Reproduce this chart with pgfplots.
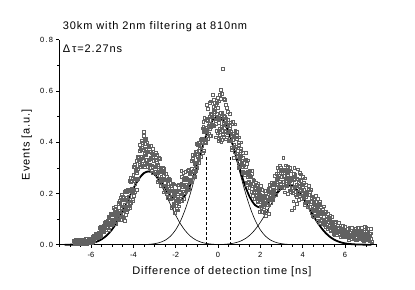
\documentclass[border=0pt]{standalone}
\usepackage{fontspec}
\setmainfont{Liberation Sans}
\newfontfamily\lsfont[LetterSpace=8]{Liberation Sans}
\usepackage{pgfplots}
\pgfplotsset{compat=1.18}
\begin{document}
\begin{tikzpicture}
\path[use as bounding box] (0,0) rectangle (415bp,290bp);
\begin{axis}[
  at={(59.3bp,45.3bp)}, anchor=south west,
  scale only axis, width=317.4bp, height=205bp,
  xmin=-7.5, xmax=7.5, ymin=0, ymax=0.8,
  axis x line=bottom, axis y line=left,
  axis line style={-, line width=0.8pt, black},
  xtick={-6,-4,-2,0,2,4,6}, xticklabels={-6,-4,-2,0,2,4,6},
  minor xtick={-7.5,-7,...,7.5},
  ytick={0,0.2,0.4,0.6,0.8},
  yticklabels={0{\kern1.3bp}.{\kern1.3bp}0,0{\kern1.3bp}.{\kern1.3bp}2,0{\kern1.3bp}.{\kern1.3bp}4,0{\kern1.3bp}.{\kern1.3bp}6,0{\kern1.3bp}.{\kern1.3bp}8},
  minor ytick={0.1,0.3,0.5,0.7},
  tick align=outside, major tick length=3bp, minor tick length=2bp,
  tick style={black, line width=0.6pt},
  ticklabel style={font=\fontsize{7.5bp}{9bp}\selectfont},
  xticklabel style={anchor=north, inner sep=0pt, yshift=-4bp},
  yticklabel style={anchor=east, inner sep=0pt, xshift=-3bp},
  clip=false,
]
\addplot[only marks, mark=square, mark size=1.4bp, mark options={draw=black!62, line width=0.35pt}] coordinates {
(-6.81,0.015)(-6.78,0.004)(-6.75,0.021)(-6.72,0.010)(-6.69,0.018)(-6.66,0.007)(-6.63,0.013)(-6.60,0.003)(-6.57,0.019)(-6.54,0.008)(-6.51,0.014)(-6.48,0.020)(-6.45,0.006)(-6.42,0.011)(-6.39,0.017)(-6.36,0.005)(-6.33,0.016)(-6.30,0.009)(-6.27,0.022)(-6.24,0.012)(-6.21,0.002)(-6.18,0.016)(-6.15,0.007)(-6.12,0.017)(-6.09,0.006)(-6.06,0.023)(-6.03,0.012)(-6.00,0.020)
(-5.97,0.014)(-5.94,0.023)(-5.91,0.013)(-5.88,0.034)(-5.85,0.023)(-5.82,0.032)(-5.79,0.042)(-5.76,0.027)(-5.73,0.035)(-5.70,0.044)(-5.67,0.032)(-5.64,0.047)(-5.61,0.040)
(-5.58,0.068)(-5.55,0.051)(-5.52,0.034)(-5.49,0.064)(-5.46,0.049)(-5.43,0.069)(-5.40,0.050)(-5.37,0.087)(-5.34,0.068)(-5.31,0.087)(-5.28,0.068)(-5.25,0.083)(-5.22,0.066)
(-5.19,0.109)(-5.16,0.078)(-5.13,0.098)(-5.10,0.118)(-5.07,0.078)(-5.04,0.095)(-5.01,0.115)(-4.98,0.081)(-4.95,0.116)(-4.92,0.097)(-4.89,0.138)(-4.86,0.110)(-4.83,0.082)(-4.80,0.125)(-4.77,0.100)(-4.74,0.127)(-4.71,0.096)
(-4.68,0.166)(-4.65,0.121)(-4.62,0.162)(-4.59,0.118)(-4.56,0.150)(-4.53,0.110)(-4.50,0.187)(-4.47,0.142)(-4.44,0.174)(-4.41,0.206)(-4.38,0.148)(-4.35,0.176)(-4.32,0.208)(-4.29,0.159)(-4.26,0.213)(-4.23,0.187)(-4.20,0.250)
(-4.17,0.212)(-4.14,0.170)(-4.11,0.246)(-4.08,0.208)(-4.05,0.259)(-4.02,0.212)(-3.99,0.305)(-3.96,0.258)(-3.93,0.306)(-3.90,0.259)(-3.87,0.297)(-3.84,0.255)(-3.81,0.343)
(-3.78,0.295)(-3.75,0.332)(-3.72,0.368)(-3.69,0.304)(-3.66,0.335)(-3.63,0.370)(-3.60,0.315)(-3.57,0.372)(-3.54,0.339)(-3.51,0.425)(-3.48,0.355)(-3.45,0.304)(-3.42,0.370)(-3.39,0.322)(-3.36,0.363)(-3.33,0.305)(-3.30,0.387)
(-3.27,0.331)(-3.24,0.364)(-3.21,0.312)(-3.18,0.335)(-3.15,0.288)(-3.12,0.357)(-3.09,0.304)(-3.06,0.328)(-3.03,0.352)(-3.00,0.286)(-2.97,0.305)(-2.94,0.330)(-2.91,0.272)(-2.88,0.319)(-2.85,0.284)(-2.82,0.340)(-2.79,0.292)
(-2.76,0.248)(-2.73,0.298)(-2.70,0.257)(-2.67,0.287)(-2.64,0.238)(-2.61,0.302)(-2.58,0.253)(-2.55,0.281)(-2.52,0.232)(-2.49,0.252)(-2.46,0.207)(-2.43,0.267)(-2.40,0.218)(-2.37,0.238)(-2.34,0.257)(-2.31,0.197)
(-2.28,0.211)(-2.25,0.230)(-2.22,0.178)(-2.19,0.219)(-2.16,0.188)(-2.13,0.238)(-2.10,0.196)(-2.07,0.155)(-2.04,0.208)(-2.01,0.172)(-1.98,0.206)(-1.95,0.163)(-1.92,0.232)(-1.89,0.189)(-1.86,0.223)(-1.83,0.181)(-1.80,0.208)
(-1.77,0.171)(-1.74,0.238)(-1.71,0.197)(-1.68,0.225)(-1.65,0.253)(-1.62,0.201)(-1.59,0.225)(-1.56,0.253)(-1.53,0.209)(-1.50,0.257)(-1.47,0.233)(-1.44,0.289)(-1.41,0.253)(-1.38,0.218)(-1.35,0.277)(-1.32,0.246)(-1.29,0.285)
(-1.26,0.244)(-1.23,0.328)(-1.20,0.286)(-1.17,0.329)(-1.14,0.288)(-1.11,0.322)(-1.08,0.285)(-1.05,0.364)(-1.02,0.322)(-0.99,0.356)(-0.96,0.391)(-0.93,0.335)(-0.90,0.366)(-0.87,0.400)(-0.84,0.354)(-0.81,0.410)(-0.78,0.387)
(-0.75,0.455)(-0.72,0.411)(-0.69,0.366)(-0.66,0.440)(-0.63,0.400)(-0.60,0.448)(-0.57,0.398)(-0.54,0.489)(-0.51,0.439)(-0.48,0.485)(-0.45,0.435)(-0.42,0.471)(-0.39,0.426)(-0.36,0.512)(-0.33,0.462)(-0.30,0.498)
(-0.27,0.465)(-0.24,0.493)(-0.21,0.525)(-0.18,0.465)(-0.15,0.520)(-0.12,0.483)(-0.09,0.545)(-0.06,0.490)(-0.03,0.435)(0.00,0.498)(0.03,0.447)(0.06,0.487)(0.09,0.430)(0.12,0.515)(0.15,0.460)(0.18,0.500)(0.21,0.445)(0.24,0.475)(0.27,0.423)(0.30,0.500)
(0.33,0.442)(0.36,0.468)(0.39,0.494)(0.42,0.420)(0.45,0.442)(0.48,0.468)(0.51,0.404)(0.54,0.455)(0.57,0.416)(0.60,0.478)(0.63,0.424)(0.66,0.370)(0.69,0.433)(0.72,0.384)(0.75,0.423)(0.78,0.364)(0.81,0.445)
(0.84,0.384)(0.87,0.413)(0.90,0.357)(0.93,0.377)(0.96,0.325)(0.99,0.390)(1.02,0.334)(1.05,0.354)(1.08,0.374)(1.11,0.304)(1.14,0.319)(1.17,0.340)(1.20,0.279)(1.23,0.321)(1.26,0.283)(1.29,0.334)(1.32,0.282)
(1.35,0.235)(1.38,0.284)(1.41,0.244)(1.44,0.273)(1.47,0.224)(1.50,0.288)(1.53,0.239)(1.56,0.266)(1.59,0.218)(1.62,0.237)(1.65,0.192)(1.68,0.252)(1.71,0.203)(1.74,0.222)(1.77,0.242)(1.80,0.181)(1.83,0.196)
(1.86,0.214)(1.89,0.168)(1.92,0.203)(1.95,0.176)(1.98,0.218)(2.01,0.181)(2.04,0.144)(2.07,0.190)(2.10,0.158)(2.13,0.188)(2.16,0.149)(2.19,0.210)(2.22,0.172)(2.25,0.201)(2.28,0.165)(2.31,0.188)(2.34,0.155)
(2.37,0.218)(2.40,0.178)(2.43,0.206)(2.46,0.233)(2.49,0.181)(2.52,0.205)(2.55,0.233)(2.58,0.189)(2.61,0.236)(2.64,0.212)(2.67,0.268)(2.70,0.232)(2.73,0.196)(2.76,0.253)(2.79,0.221)(2.82,0.259)(2.85,0.218)
(2.88,0.289)(2.91,0.247)(2.94,0.281)(2.97,0.239)(3.00,0.264)(3.03,0.225)(3.06,0.290)(3.09,0.246)(3.12,0.270)(3.15,0.294)(3.18,0.237)(3.21,0.256)(3.24,0.279)(3.27,0.229)(3.30,0.271)(3.33,0.241)(3.36,0.291)(3.39,0.249)(3.42,0.207)(3.45,0.259)(3.48,0.221)
(3.51,0.254)(3.54,0.202)(3.57,0.277)(3.60,0.225)(3.63,0.259)(3.66,0.208)(3.69,0.233)(3.72,0.186)(3.75,0.256)(3.78,0.204)(3.81,0.229)(3.84,0.254)(3.87,0.189)(3.90,0.210)(3.93,0.235)(3.96,0.179)(3.99,0.226)
(4.02,0.193)(4.05,0.242)(4.08,0.198)(4.11,0.155)(4.14,0.205)(4.17,0.166)(4.20,0.196)(4.23,0.149)(4.26,0.214)(4.29,0.166)(4.32,0.195)(4.35,0.147)(4.38,0.168)(4.41,0.125)(4.44,0.185)(4.47,0.138)(4.50,0.158)
(4.53,0.175)(4.56,0.123)(4.59,0.137)(4.62,0.156)(4.65,0.111)(4.68,0.146)(4.71,0.119)(4.74,0.161)(4.77,0.123)(4.80,0.085)(4.83,0.129)(4.86,0.095)(4.89,0.121)(4.92,0.080)(4.95,0.137)(4.98,0.095)(5.01,0.120)
(5.04,0.085)(5.07,0.098)(5.10,0.071)(5.13,0.108)(5.16,0.078)(5.19,0.090)(5.22,0.103)(5.25,0.065)(5.28,0.076)(5.31,0.089)(5.34,0.056)(5.37,0.081)(5.40,0.062)(5.43,0.092)(5.46,0.065)(5.49,0.038)(5.52,0.070)
(5.55,0.047)(5.58,0.063)(5.61,0.040)(5.64,0.073)(5.67,0.050)(5.70,0.065)(5.73,0.042)(5.76,0.053)(5.79,0.032)(5.82,0.063)(5.85,0.040)(5.88,0.051)(5.91,0.062)(5.94,0.033)(5.97,0.043)(6.00,0.054)(6.03,0.030)(6.06,0.051)(6.09,0.037)(6.12,0.062)(6.15,0.042)(6.18,0.021)(6.21,0.048)(6.24,0.029)(6.27,0.046)(6.30,0.024)(6.33,0.057)(6.36,0.035)(6.39,0.051)(6.42,0.028)(6.45,0.040)(6.48,0.020)(6.51,0.052)(6.54,0.029)(6.57,0.041)(6.60,0.053)(6.63,0.025)(6.66,0.034)(6.69,0.046)(6.72,0.022)(6.75,0.044)(6.78,0.029)(6.81,0.055)(6.84,0.035)(6.87,0.015)(6.90,0.041)(6.93,0.023)(6.96,0.040)(6.99,0.018)(7.02,0.051)(7.05,0.029)(7.08,0.045)(7.11,0.022)(7.14,0.034)(7.17,0.014)(7.20,0.045)(7.23,0.023)
(-3.52,0.440)(-3.47,0.410)(-3.55,0.398)(-1.74,0.290)(-1.65,0.282)(-2.05,0.125)(-1.90,0.135)(-0.55,0.545)(-0.48,0.530)(-0.40,0.555)(-0.25,0.585)(0.21,0.686)(0.14,0.605)(0.18,0.590)(0.05,0.560)(0.10,0.410)(0.02,0.405)(-0.10,0.420)(0.25,0.570)(0.30,0.565)(-0.05,0.555)(0.45,0.520)(0.55,0.510)(2.27,0.112)(2.18,0.125)(2.40,0.120)(3.08,0.341)(3.50,0.135)(3.60,0.145)(3.70,0.160)(3.55,0.170)(2.95,0.300)(3.60,0.300)(3.75,0.295)(6.95,0.070)(7.10,0.062)(7.25,0.012)(6.30,0.068)(5.90,0.075)
};
\addplot[only marks, mark=square, mark size=1.4bp, mark options={draw=black!62, line width=0.35pt}] coordinates {
(-6.795,0.006)(-6.765,0.016)(-6.735,0.010)(-6.705,0.021)(-6.675,0.004)(-6.645,0.013)(-6.615,0.019)(-6.585,0.008)(-6.555,0.002)(-6.525,0.017)(-6.495,0.014)(-6.465,0.009)(-6.435,0.020)(-6.405,0.005)(-6.375,0.012)(-6.345,0.018)(-6.315,0.007)(-6.285,0.015)(-6.255,0.003)(-6.225,0.022)(-6.195,0.011)(-6.165,0.017)(-6.135,0.009)(-6.105,0.008)(-6.075,0.018)(-6.045,0.012)(-6.015,0.023)(-5.985,0.008)
(-5.955,0.021)(-5.925,0.030)(-5.895,0.019)(-5.865,0.014)(-5.835,0.034)(-5.805,0.032)(-5.775,0.028)(-5.745,0.044)(-5.715,0.028)(-5.685,0.038)(-5.655,0.047)(-5.625,0.036)(-5.595,0.048)
(-5.565,0.030)(-5.535,0.071)(-5.505,0.052)(-5.475,0.066)(-5.445,0.053)(-5.415,0.051)(-5.385,0.074)(-5.355,0.065)(-5.325,0.090)(-5.295,0.059)(-5.265,0.080)(-5.235,0.095)(-5.205,0.076)
(-5.175,0.058)(-5.145,0.105)(-5.115,0.098)(-5.085,0.085)(-5.055,0.120)(-5.025,0.077)(-4.995,0.100)(-4.965,0.120)(-4.935,0.089)(-4.905,0.115)(-4.875,0.081)(-4.845,0.140)(-4.815,0.109)(-4.785,0.128)(-4.755,0.106)(-4.725,0.100)(-4.695,0.132)
(-4.665,0.116)(-4.635,0.171)(-4.605,0.099)(-4.575,0.145)(-4.545,0.177)(-4.515,0.132)(-4.485,0.110)(-4.455,0.183)(-4.425,0.174)(-4.395,0.157)(-4.365,0.211)(-4.335,0.149)(-4.305,0.185)(-4.275,0.217)(-4.245,0.173)(-4.215,0.214)(-4.185,0.165)
(-4.155,0.262)(-4.125,0.215)(-4.095,0.251)(-4.065,0.219)(-4.035,0.214)(-4.005,0.272)(-3.975,0.250)(-3.945,0.313)(-3.915,0.236)(-3.885,0.289)(-3.855,0.327)(-3.825,0.280)(-3.795,0.258)
(-3.765,0.340)(-3.735,0.332)(-3.705,0.313)(-3.675,0.374)(-3.645,0.305)(-3.615,0.345)(-3.585,0.380)(-3.555,0.327)(-3.525,0.369)(-3.495,0.310)(-3.465,0.405)(-3.435,0.349)(-3.405,0.375)(-3.375,0.333)(-3.345,0.318)(-3.315,0.365)(-3.285,0.332)
(-3.255,0.381)(-3.225,0.301)(-3.195,0.339)(-3.165,0.363)(-3.135,0.310)(-3.105,0.280)(-3.075,0.345)(-3.045,0.328)(-3.015,0.303)(-2.985,0.349)(-2.955,0.279)(-2.925,0.307)(-2.895,0.331)(-2.865,0.279)(-2.835,0.312)(-2.805,0.255)(-2.775,0.337)
(-2.745,0.284)(-2.715,0.302)(-2.685,0.265)(-2.655,0.251)(-2.625,0.286)(-2.595,0.258)(-2.565,0.297)(-2.535,0.225)(-2.505,0.256)(-2.475,0.276)(-2.445,0.227)(-2.415,0.199)(-2.385,0.254)(-2.355,0.238)(-2.325,0.213)(-2.295,0.253)
(-2.265,0.187)(-2.235,0.210)(-2.205,0.230)(-2.175,0.183)(-2.145,0.212)(-2.115,0.162)(-2.085,0.236)(-2.055,0.191)(-2.025,0.212)(-1.995,0.180)(-1.965,0.170)(-1.935,0.211)(-1.905,0.188)(-1.875,0.233)(-1.845,0.167)(-1.815,0.205)(-1.785,0.232)
(-1.755,0.191)(-1.725,0.170)(-1.695,0.233)(-1.665,0.225)(-1.635,0.209)(-1.605,0.257)(-1.575,0.201)(-1.545,0.233)(-1.515,0.261)(-1.485,0.221)(-1.455,0.257)(-1.425,0.213)(-1.395,0.293)(-1.365,0.254)(-1.335,0.281)(-1.305,0.254)(-1.275,0.249)
(-1.245,0.298)(-1.215,0.278)(-1.185,0.336)(-1.155,0.266)(-1.125,0.315)(-1.095,0.349)(-1.065,0.307)(-1.035,0.287)(-1.005,0.363)(-0.975,0.356)(-0.945,0.342)(-0.915,0.398)(-0.885,0.339)(-0.855,0.377)(-0.825,0.412)(-0.795,0.370)(-0.765,0.414)
(-0.735,0.360)(-0.705,0.461)(-0.675,0.411)(-0.645,0.445)(-0.615,0.410)(-0.585,0.403)(-0.555,0.458)(-0.525,0.434)(-0.495,0.494)(-0.465,0.415)(-0.435,0.465)(-0.405,0.501)(-0.375,0.451)(-0.345,0.427)(-0.315,0.507)(-0.285,0.498)
(-0.255,0.480)(-0.225,0.538)(-0.195,0.465)(-0.165,0.500)(-0.135,0.530)(-0.105,0.473)(-0.075,0.510)(-0.045,0.445)(-0.015,0.535)(0.015,0.475)(0.045,0.498)(0.075,0.455)(0.105,0.440)(0.135,0.490)(0.165,0.460)(0.195,0.515)(0.225,0.430)(0.255,0.475)(0.285,0.503)(0.315,0.445)
(0.345,0.412)(0.375,0.483)(0.405,0.464)(0.435,0.435)(0.465,0.487)(0.495,0.408)(0.525,0.439)(0.555,0.465)(0.585,0.406)(0.615,0.443)(0.645,0.379)(0.675,0.470)(0.705,0.411)(0.735,0.435)(0.765,0.391)(0.795,0.374)(0.825,0.420)
(0.855,0.384)(0.885,0.427)(0.915,0.343)(0.945,0.377)(0.975,0.397)(1.005,0.340)(1.035,0.307)(1.065,0.368)(1.095,0.347)(1.125,0.318)(1.155,0.360)(1.185,0.286)(1.215,0.310)(1.245,0.330)(1.275,0.274)(1.305,0.303)(1.335,0.242)
(1.365,0.315)(1.395,0.266)(1.425,0.284)(1.455,0.247)(1.485,0.232)(1.515,0.268)(1.545,0.239)(1.575,0.278)(1.605,0.206)(1.635,0.237)(1.665,0.256)(1.695,0.208)(1.725,0.179)(1.755,0.234)(1.785,0.218)(1.815,0.193)(1.845,0.232)
(1.875,0.172)(1.905,0.192)(1.935,0.210)(1.965,0.169)(1.995,0.194)(2.025,0.150)(2.055,0.214)(2.085,0.175)(2.115,0.193)(2.145,0.165)(2.175,0.156)(2.205,0.192)(2.235,0.172)(2.265,0.212)(2.295,0.154)(2.325,0.188)(2.355,0.212)
(2.385,0.174)(2.415,0.154)(2.445,0.218)(2.475,0.209)(2.505,0.193)(2.535,0.241)(2.565,0.185)(2.595,0.217)(2.625,0.244)(2.655,0.204)(2.685,0.240)(2.715,0.196)(2.745,0.276)(2.775,0.235)(2.805,0.261)(2.835,0.233)(2.865,0.226)
(2.895,0.269)(2.925,0.247)(2.955,0.293)(2.985,0.227)(3.015,0.264)(3.045,0.289)(3.075,0.246)(3.105,0.222)(3.135,0.282)(3.165,0.270)(3.195,0.249)(3.225,0.292)(3.255,0.231)(3.285,0.257)(3.315,0.279)(3.345,0.233)(3.375,0.263)(3.405,0.213)(3.435,0.287)(3.465,0.241)(3.495,0.261)
(3.525,0.224)(3.555,0.211)(3.585,0.254)(3.615,0.225)(3.645,0.273)(3.675,0.194)(3.705,0.233)(3.735,0.258)(3.765,0.206)(3.795,0.177)(3.825,0.243)(3.855,0.227)(3.885,0.203)(3.915,0.250)(3.945,0.181)(3.975,0.210)(4.005,0.235)
(4.035,0.185)(4.065,0.214)(4.095,0.162)(4.125,0.235)(4.155,0.187)(4.185,0.206)(4.215,0.170)(4.245,0.157)(4.275,0.194)(4.305,0.166)(4.335,0.207)(4.365,0.135)(4.395,0.168)(4.425,0.189)(4.455,0.141)(4.485,0.114)(4.515,0.170)
(4.545,0.154)(4.575,0.134)(4.605,0.169)(4.635,0.114)(4.665,0.135)(4.695,0.153)(4.725,0.112)(4.755,0.137)(4.785,0.092)(4.815,0.155)(4.845,0.114)(4.875,0.130)(4.905,0.099)(4.935,0.087)(4.965,0.119)(4.995,0.095)(5.025,0.131)
(5.055,0.077)(5.085,0.098)(5.115,0.111)(5.145,0.080)(5.175,0.063)(5.205,0.098)(5.235,0.088)(5.265,0.073)(5.295,0.098)(5.325,0.059)(5.355,0.073)(5.385,0.086)(5.415,0.057)(5.445,0.075)(5.475,0.043)(5.505,0.088)(5.535,0.059)
(5.565,0.066)(5.595,0.051)(5.625,0.046)(5.655,0.062)(5.685,0.051)(5.715,0.068)(5.745,0.038)(5.775,0.053)(5.805,0.062)(5.835,0.042)(5.865,0.031)(5.895,0.056)(5.925,0.049)(5.955,0.040)(5.985,0.059)(6.015,0.032)(6.045,0.044)(6.075,0.053)(6.105,0.035)(6.135,0.047)(6.165,0.027)(6.195,0.058)(6.225,0.039)(6.255,0.048)(6.285,0.034)(6.315,0.030)(6.345,0.046)(6.375,0.036)(6.405,0.054)(6.435,0.024)(6.465,0.040)(6.495,0.050)(6.525,0.031)(6.555,0.020)(6.585,0.046)(6.615,0.040)(6.645,0.032)(6.675,0.050)(6.705,0.024)(6.735,0.036)(6.765,0.046)(6.795,0.027)(6.825,0.040)(6.855,0.020)(6.885,0.052)(6.915,0.032)(6.945,0.042)(6.975,0.028)(7.005,0.024)(7.035,0.040)(7.065,0.030)(7.095,0.048)(7.125,0.018)(7.155,0.034)(7.185,0.044)(7.215,0.024)(7.245,0.014)
(-4.45,0.105)(-4.38,0.118)(-4.30,0.128)(-4.25,0.140)(-4.18,0.150)(-4.12,0.162)(-4.05,0.178)(-3.98,0.190)(-3.92,0.205)(-3.85,0.215)(-4.40,0.095)(-4.33,0.135)(-4.15,0.143)(-4.02,0.170)
(-4.95,0.145)(-4.85,0.150)(-4.72,0.160)(-4.60,0.185)(-4.55,0.195)
(-3.62,0.405)(-3.45,0.395)(-3.40,0.415)(-3.35,0.400)(-3.20,0.385)(-3.10,0.375)(-2.95,0.360)(-2.90,0.350)(-3.70,0.390)
(-2.85,0.245)(-2.70,0.230)(-2.55,0.205)(-2.40,0.185)
(-2.20,0.145)(-2.15,0.150)(-1.95,0.140)(-1.85,0.150)(-1.60,0.180)(-1.70,0.265)(-1.55,0.285)
(-1.10,0.265)(-1.00,0.300)(-0.90,0.320)(-0.80,0.345)(-1.20,0.350)(-1.00,0.395)(-0.70,0.480)(-0.65,0.495)
(-0.35,0.560)(-0.20,0.565)(-0.15,0.555)(0.00,0.575)(0.08,0.585)(0.12,0.570)(0.35,0.545)(0.40,0.535)(0.20,0.410)(0.15,0.400)(0.05,0.415)
(0.70,0.480)(0.80,0.470)(0.90,0.440)(1.00,0.420)(1.10,0.400)(0.75,0.340)(0.95,0.300)(1.15,0.280)
(1.30,0.360)(1.40,0.330)(1.60,0.290)(1.90,0.240)(2.00,0.230)(2.10,0.130)(2.30,0.135)(1.95,0.130)
(2.80,0.300)(2.90,0.310)(3.20,0.310)(3.30,0.305)(3.40,0.300)(3.85,0.280)(3.90,0.275)(4.00,0.265)(4.10,0.260)(3.30,0.200)(3.15,0.205)(2.60,0.175)(2.50,0.165)
(4.30,0.230)(4.40,0.215)(4.60,0.190)(4.70,0.180)(4.80,0.170)(5.00,0.150)(5.10,0.130)(5.20,0.120)(5.30,0.115)(5.40,0.110)(5.55,0.090)(5.70,0.085)(4.50,0.110)(4.70,0.095)
(6.00,0.070)(6.20,0.068)(6.60,0.065)(6.80,0.068)(7.00,0.066)(7.20,0.062)(6.50,0.062)
};
% individual Gaussian components
\addplot[black, line width=0.6pt, smooth] coordinates {
(-7.3,0.00005)(-7.05,0.00015)(-6.8,0.0004)(-6.55,0.00097)(-6.3,0.0023)(-6.05,0.0049)(-5.8,0.0099)(-5.55,0.0187)(-5.3,0.0331)(-5.05,0.0549)(-4.8,0.0850)(-4.55,0.1230)(-4.3,0.1664)(-4.05,0.2106)(-3.8,0.2491)(-3.55,0.2756)(-3.3,0.285)(-3.05,0.2756)(-2.8,0.2491)(-2.55,0.2106)(-2.3,0.1664)(-2.05,0.1230)(-1.8,0.0850)(-1.55,0.0549)(-1.3,0.0331)(-1.05,0.0187)(-0.8,0.0099)(-0.55,0.0049)(-0.3,0.0023)(-0.05,0.00097)(0.2,0.0004)(0.45,0.00015)(0.7,0.00005)
};
\addplot[black, line width=0.6pt, smooth] coordinates {
(-4,0.0001)(-3.75,0.0003)(-3.5,0.0007)(-3.25,0.0017)(-3,0.004)(-2.75,0.0086)(-2.5,0.0173)(-2.25,0.0328)(-2,0.0581)(-1.75,0.0963)(-1.5,0.1491)(-1.25,0.2158)(-1,0.292)(-0.75,0.3695)(-0.5,0.437)(-0.25,0.4835)(0,0.5)(0.25,0.4835)(0.5,0.437)(0.75,0.3695)(1,0.292)(1.25,0.2158)(1.5,0.1491)(1.75,0.0963)(2,0.0581)(2.25,0.0328)(2.5,0.0173)(2.75,0.0086)(3,0.004)(3.25,0.0017)(3.5,0.0007)(3.75,0.0003)(4,0.0001)
};
\addplot[black, line width=0.6pt, smooth] coordinates {
(-0.65,0.00004)(-0.4,0.0001)(-0.15,0.0003)(0.1,0.0008)(0.35,0.0018)(0.6,0.0040)(0.85,0.0081)(1.1,0.0152)(1.35,0.0270)(1.6,0.0447)(1.85,0.0692)(2.1,0.1001)(2.35,0.1355)(2.6,0.1714)(2.85,0.2028)(3.1,0.2243)(3.35,0.232)(3.6,0.2243)(3.85,0.2028)(4.1,0.1714)(4.35,0.1355)(4.6,0.1001)(4.85,0.0692)(5.1,0.0447)(5.35,0.0270)(5.6,0.0152)(5.85,0.0081)(6.1,0.0040)(6.35,0.0018)(6.6,0.0008)(6.85,0.0003)(7.1,0.0001)(7.35,0.00004)
};
% total fit
\addplot[black, line width=1.8pt, smooth] coordinates {
(-7.25,0.0001)(-7.0,0.0002)(-6.75,0.0005)(-6.5,0.0012)(-6.25,0.0026)(-6.0,0.0057)(-5.75,0.0113)(-5.5,0.0211)(-5.25,0.0369)(-5.0,0.0602)(-4.75,0.0920)(-4.5,0.1314)(-4.25,0.1754)(-4.0,0.2191)(-3.75,0.2559)(-3.5,0.2796)(-3.25,0.2863)(-3.0,0.2755)(-2.75,0.2508)(-2.5,0.2193)(-2.25,0.1903)(-2.0,0.1729)(-1.75,0.1746)(-1.5,0.1990)(-1.25,0.2455)(-1.0,0.3086)(-0.75,0.3781)(-0.5,0.4413)(-0.25,0.4856)(0,0.5014)(0.25,0.4851)(0.5,0.4400)(0.75,0.3756)(1.0,0.3039)(1.25,0.2374)(1.5,0.1859)(1.75,0.1548)(2.0,0.1452)(2.25,0.1538)(2.5,0.1746)(2.75,0.1997)(3.0,0.2212)(3.25,0.2324)(3.5,0.2299)(3.75,0.2131)(4.0,0.1849)(4.25,0.1501)(4.5,0.1139)(4.75,0.0809)(5.0,0.0536)(5.25,0.0333)(5.5,0.0193)(5.75,0.0105)(6.0,0.0053)(6.25,0.0025)(6.5,0.0011)(6.75,0.0005)(7.0,0.0002)(7.25,0.0001)
};
% coincidence window
\addplot[black, line width=0.7pt, dash pattern=on 3bp off 2bp] coordinates {(-0.54,0) (-0.54,0.35)};
\addplot[black, line width=0.7pt, dash pattern=on 3bp off 2bp] coordinates {(0.57,0) (0.57,0.35)};
\end{axis}
\node[anchor=base west, inner sep=0pt, font=\lsfont\fontsize{11bp}{13bp}\selectfont] at (62.7bp,260.3bp) {30km with 2nm filtering at 810nm};
\node[anchor=base west, inner sep=0pt, font=\lsfont\fontsize{11bp}{13bp}\selectfont] at (62.7bp,237.3bp) {Δ\,τ=2.27ns};
\node[anchor=base, inner sep=0pt, font=\lsfont\fontsize{11bp}{13bp}\selectfont] at (222bp,15.7bp) {Difference of detection time [ns]};
\node[rotate=90, anchor=center, inner sep=0pt, font=\lsfont\fontsize{11bp}{13bp}\selectfont] at (26.7bp,145.3bp) {Events [a.u.]};
\end{tikzpicture}
\end{document}
